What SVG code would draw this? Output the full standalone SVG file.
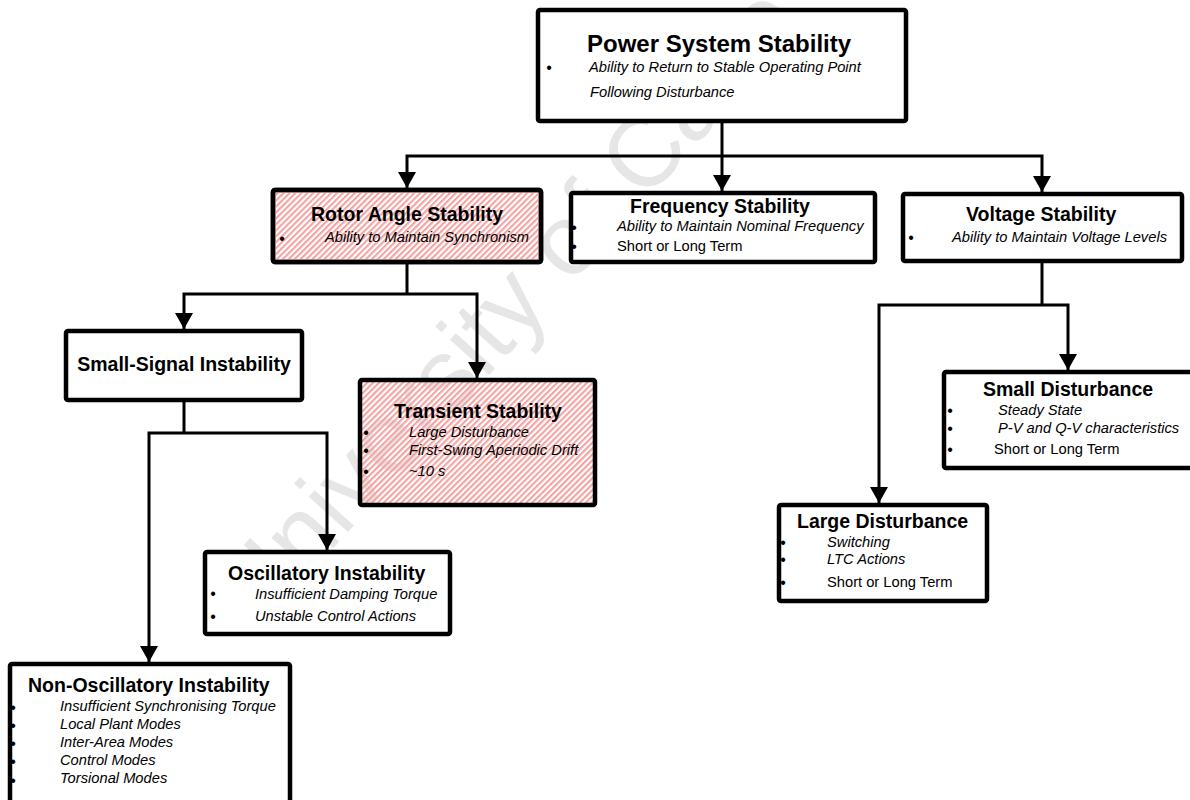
<svg xmlns="http://www.w3.org/2000/svg" width="1190" height="800" viewBox="0 0 1190 800">
<defs>
<pattern id="hatch" width="4.2" height="4.2" patternUnits="userSpaceOnUse" patternTransform="rotate(45)">
<rect x="0" y="0" width="2.1" height="4.2" fill="#f4a3a3"/>
</pattern>
<marker id="arr" viewBox="0 0 16 18" refX="16" refY="9" markerWidth="16" markerHeight="18" markerUnits="userSpaceOnUse" orient="auto">
<path d="M0,0 L16,9 L0,18 z" fill="#000"/>
</marker>
<style>
.box{fill:#fff;stroke:#000;stroke-width:4.5;stroke-linejoin:round}
.hb{fill:url(#hatch);stroke:#000;stroke-width:4.5;stroke-linejoin:round}
.t{font-family:"Liberation Sans",Arial,sans-serif;font-weight:bold;font-size:19.5px;fill:#000}
.h{font-size:24px}
.i{font-family:"Liberation Sans",Arial,sans-serif;font-style:italic;font-size:14.7px;fill:#000}
.r{font-family:"Liberation Sans",Arial,sans-serif;font-size:14.7px;fill:#000}
.b{font-family:"Liberation Sans",Arial,sans-serif;font-size:16px;text-anchor:middle;fill:#000}
.c{fill:none;stroke:#000;stroke-width:3}
.wm{font-family:"Liberation Sans",Arial,sans-serif;font-size:100px;fill:#e6e6e6}
</style>
</defs>
<rect width="1190" height="800" fill="#fff"/>
<text class="wm" transform="translate(258,632) rotate(-48)">University of Cape Town</text>

<g id="connectors">
<path class="c" d="M722,121 V156"/>
<path class="c" d="M722,156 H407 V188" marker-end="url(#arr)"/>
<path class="c" d="M722,156 V191" marker-end="url(#arr)"/>
<path class="c" d="M722,156 H1042 V192" marker-end="url(#arr)"/>
<path class="c" d="M407,262 V294"/>
<path class="c" d="M407,294 H184 V329" marker-end="url(#arr)"/>
<path class="c" d="M407,294 H477 V378" marker-end="url(#arr)"/>
<path class="c" d="M184,400 V433"/>
<path class="c" d="M184,433 H149 V662" marker-end="url(#arr)"/>
<path class="c" d="M184,433 H327 V550" marker-end="url(#arr)"/>
<path class="c" d="M1042,261 V305"/>
<path class="c" d="M1042,305 H879 V503" marker-end="url(#arr)"/>
<path class="c" d="M1042,305 H1068 V370" marker-end="url(#arr)"/>
</g>

<g id="power-system-stability">
<rect class="box" x="538" y="10" width="368" height="111" rx="2"/>
<text class="t h" x="587" y="52">Power System Stability</text>
<text class="b" x="549" y="73">•</text>
<text class="i" x="589" y="72">Ability to Return to Stable Operating Point</text>
<text class="i" x="590" y="97">Following Disturbance</text>
</g>

<g id="rotor-angle-stability">
<rect class="box" x="273" y="190" width="268" height="72" rx="2"/>
<rect class="hb" x="273" y="190" width="268" height="72" rx="2"/>
<text class="t" x="311" y="221">Rotor Angle Stability</text>
<text class="b" x="282" y="244">•</text>
<text class="i" x="325" y="242">Ability to Maintain Synchronism</text>
</g>

<g id="frequency-stability">
<rect class="box" x="571" y="193" width="304" height="69" rx="2"/>
<text class="t" x="630" y="213">Frequency Stability</text>
<text class="b" x="574" y="233">•</text>
<text class="i" x="617" y="231">Ability to Maintain Nominal Frequency</text>
<text class="b" x="574" y="252">•</text>
<text class="r" x="617" y="251">Short or Long Term</text>
</g>

<g id="voltage-stability">
<rect class="box" x="903" y="194" width="279" height="67" rx="2"/>
<text class="t" x="966" y="221">Voltage Stability</text>
<text class="b" x="911" y="243">•</text>
<text class="i" x="952" y="242">Ability to Maintain Voltage Levels</text>
</g>

<g id="small-signal-instability">
<rect class="box" x="66" y="331" width="236" height="69" rx="2"/>
<text class="t" x="184" y="371" text-anchor="middle">Small-Signal Instability</text>
</g>

<g id="transient-stability">
<rect class="hb" x="360" y="380" width="235" height="125" rx="2"/>
<text class="t" x="394" y="418">Transient Stability</text>
<text class="b" x="366" y="438">•</text>
<text class="i" x="409" y="437">Large Disturbance</text>
<text class="b" x="366" y="456">•</text>
<text class="i" x="409" y="455">First-Swing Aperiodic Drift</text>
<text class="b" x="366" y="477">•</text>
<text class="i" x="409" y="476">~10 s</text>
</g>

<g id="oscillatory-instability">
<rect class="box" x="205" y="552" width="245" height="82" rx="2"/>
<text class="t" x="228" y="580">Oscillatory Instability</text>
<text class="b" x="213" y="599">•</text>
<text class="i" x="255" y="599">Insufficient Damping Torque</text>
<text class="b" x="213" y="622">•</text>
<text class="i" x="255" y="621">Unstable Control Actions</text>
</g>

<g id="non-oscillatory-instability">
<rect class="box" x="10" y="664" width="280" height="150" rx="2"/>
<text class="t" x="28" y="692">Non-Oscillatory Instability</text>
<text class="b" x="13" y="713">•</text>
<text class="i" x="60" y="711">Insufficient Synchronising Torque</text>
<text class="b" x="13" y="731">•</text>
<text class="i" x="60" y="729">Local Plant Modes</text>
<text class="b" x="13" y="749">•</text>
<text class="i" x="60" y="747">Inter-Area Modes</text>
<text class="b" x="13" y="767">•</text>
<text class="i" x="60" y="765">Control Modes</text>
<text class="b" x="13" y="786">•</text>
<text class="i" x="60" y="783">Torsional Modes</text>
</g>

<g id="small-disturbance">
<rect class="box" x="944" y="372" width="252" height="96" rx="2"/>
<text class="t" x="983" y="396">Small Disturbance</text>
<text class="b" x="950" y="416">•</text>
<text class="i" x="998" y="415">Steady State</text>
<text class="b" x="950" y="434">•</text>
<text class="i" x="998" y="433">P-V and Q-V characteristics</text>
<text class="b" x="950" y="455">•</text>
<text class="r" x="994" y="454">Short or Long Term</text>
</g>

<g id="large-disturbance">
<rect class="box" x="779" y="505" width="208" height="96" rx="2"/>
<text class="t" x="797" y="528">Large Disturbance</text>
<text class="b" x="783" y="548">•</text>
<text class="i" x="827" y="547">Switching</text>
<text class="b" x="783" y="565">•</text>
<text class="i" x="827" y="564">LTC Actions</text>
<text class="b" x="783" y="588">•</text>
<text class="r" x="827" y="587">Short or Long Term</text>
</g>
</svg>
